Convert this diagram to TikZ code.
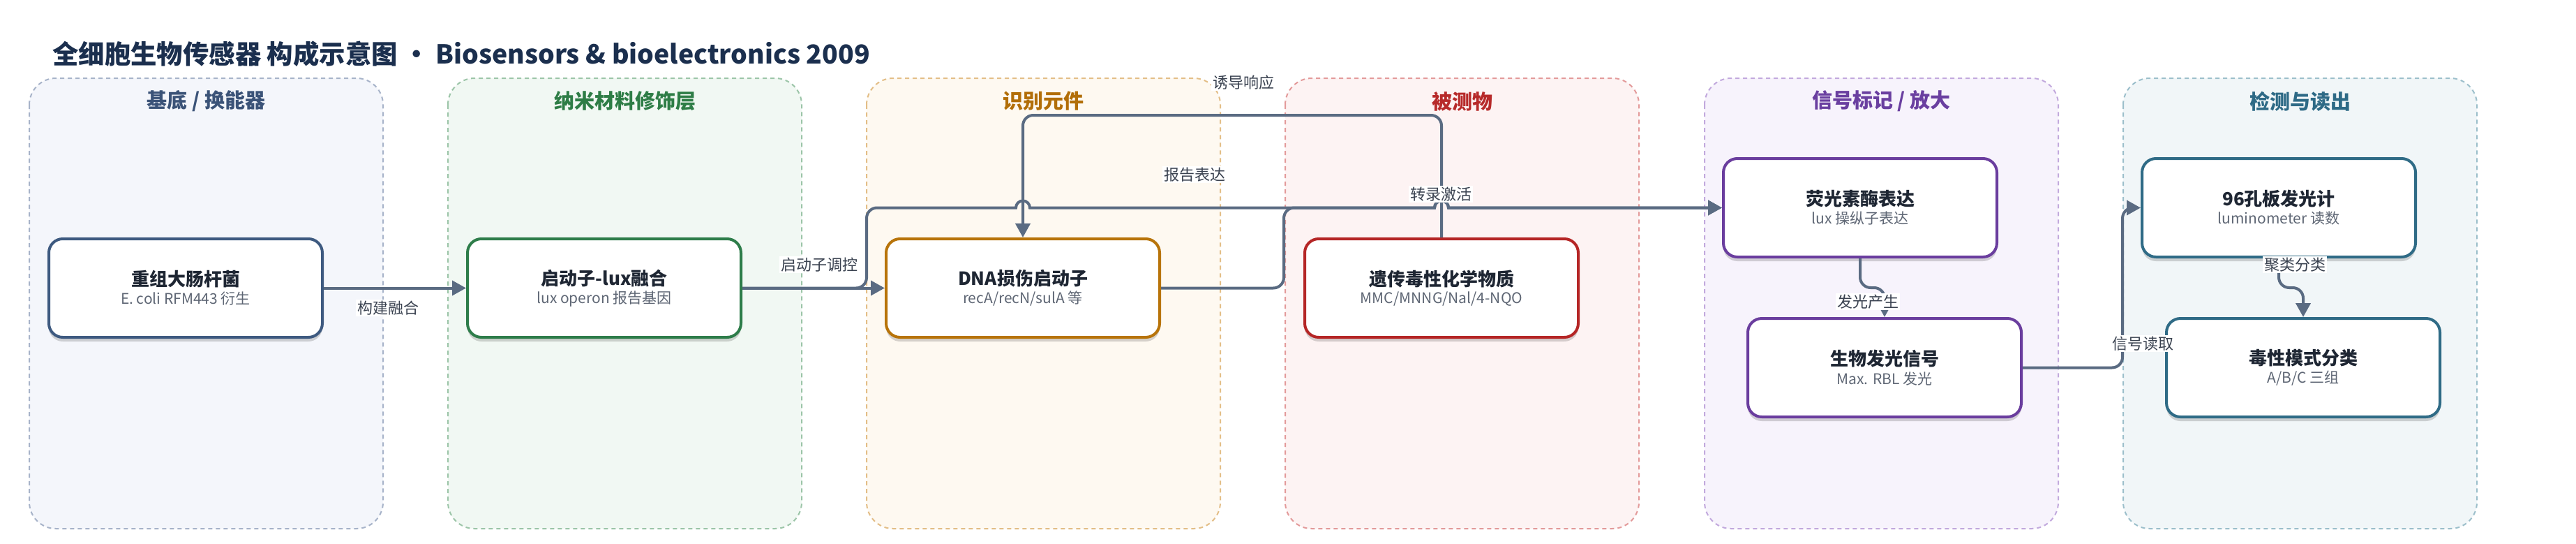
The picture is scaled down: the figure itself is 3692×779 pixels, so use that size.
\documentclass[tikz,border=0pt]{standalone}
\usepackage{fontspec}
\setmainfont{Noto Sans CJK SC}
\usetikzlibrary{arrows.meta,shadows}
\definecolor{titlec}{HTML}{1B2F4E}
\definecolor{edgec}{HTML}{5A6B82}
\definecolor{labc}{HTML}{3A4250}
\definecolor{ntc}{HTML}{1E2633}
\definecolor{subc}{HTML}{5E6674}
\definecolor{fA}{HTML}{F4F6FB}\definecolor{bA}{HTML}{A7B3C9}\definecolor{tA}{HTML}{3B5378}\definecolor{nA}{HTML}{3E5A80}
\definecolor{fB}{HTML}{F1F8F3}\definecolor{bB}{HTML}{9CC5A8}\definecolor{tB}{HTML}{2E7D46}\definecolor{nB}{HTML}{2E7D4A}
\definecolor{fC}{HTML}{FEF9F1}\definecolor{bC}{HTML}{E3BE87}\definecolor{tC}{HTML}{B26E08}\definecolor{nC}{HTML}{B8740A}
\definecolor{fD}{HTML}{FDF3F3}\definecolor{bD}{HTML}{E39A9A}\definecolor{tD}{HTML}{B72A2A}\definecolor{nD}{HTML}{B52626}
\definecolor{fE}{HTML}{F7F3FC}\definecolor{bE}{HTML}{C2A9DD}\definecolor{tE}{HTML}{6A3FA0}\definecolor{nE}{HTML}{6A3D9E}
\definecolor{fF}{HTML}{F1F6F8}\definecolor{bF}{HTML}{9CBFCB}\definecolor{tF}{HTML}{2E6A86}\definecolor{nF}{HTML}{2F6B86}
\newcommand{\boxtext}[2]{{\fontsize{26}{30}\selectfont\bfseries\color{ntc}#1}\\[5pt]{\fontsize{21}{25}\selectfont\color{subc}#2}}
\tikzset{
  lane/.style={draw=#1, dash pattern=on 6pt off 5pt, line width=2pt, rounded corners=38pt},
  lanetitle/.style={font=\fontsize{29}{34}\selectfont\bfseries, text=#1, anchor=center},
  nbox/.style={draw=#1, line width=4pt, rounded corners=20pt, fill=white,
    minimum width=392pt, minimum height=141pt, align=center, inner sep=0pt,
    drop shadow={shadow xshift=0pt, shadow yshift=-6pt, opacity=0.16, fill=black}},
  edge/.style={draw=edgec, line width=4pt},
  rc/.style={rounded corners=15pt},
  tip/.style={-{Triangle[length=20pt,width=21pt]}},
  elabel/.style={fill=white, inner sep=2pt, font=\fontsize{22}{26}\selectfont, text=labc}
}
\begin{document}
\begin{tikzpicture}[x=1pt,y=1pt]
\useasboundingbox (0,0) rectangle (3692,-779);
\fill[white] (0,0) rectangle (3692,-779);
% title
\node[anchor=west, font=\fontsize{37.4}{44}\selectfont\bfseries, text=titlec, inner sep=0pt] (title) at (75,-77) {全细胞生物传感器 构成示意图 · Biosensors \& bioelectronics 2009};
% lanes
\draw[lane=bA, fill=fA] (42,-112) rectangle (549,-757);
\draw[lane=bB, fill=fB] (642,-112) rectangle (1149,-757);
\draw[lane=bC, fill=fC] (1242,-112) rectangle (1749,-757);
\draw[lane=bD, fill=fD] (1842,-112) rectangle (2349,-757);
\draw[lane=bE, fill=fE] (2443,-112) rectangle (2950,-757);
\draw[lane=bF, fill=fF] (3043,-112) rectangle (3550,-757);
\node[lanetitle=tA] (lt1) at (295.5,-145) {基底 / 换能器};
\node[lanetitle=tB] (lt2) at (895.5,-145) {纳米材料修饰层};
\node[lanetitle=tC] (lt3) at (1495.5,-145) {识别元件};
\node[lanetitle=tD] (lt4) at (2095.5,-145) {被测物};
\node[lanetitle=tE] (lt5) at (2696.5,-145) {信号标记 / 放大};
\node[lanetitle=tF] (lt6) at (3296.5,-145) {检测与读出};
% nodes
\node[nbox=nA] (n1) at (266,-412.5) {\boxtext{重组大肠杆菌}{E. coli RFM443 衍生}};
\node[nbox=nB] (n2) at (866,-412.5) {\boxtext{启动子-lux融合}{lux operon 报告基因}};
\node[nbox=nC] (n3) at (1466,-412.5) {\boxtext{DNA损伤启动子}{recA/recN/sulA 等}};
\node[nbox=nD] (n4) at (2066,-412.5) {\boxtext{遗传毒性化学物质}{MMC/MNNG/Nal/4-NQO}};
\node[nbox=nE] (n5) at (2666,-297.5) {\boxtext{荧光素酶表达}{lux 操纵子表达}};
\node[nbox=nE] (n6) at (2701,-526.5) {\boxtext{生物发光信号}{Max. RBL 发光}};
\node[nbox=nF] (n7) at (3266,-297.5) {\boxtext{96孔板发光计}{luminometer 读数}};
\node[nbox=nF] (n8) at (3301,-526.5) {\boxtext{毒性模式分类}{A/B/C 三组}};
% edges
\draw[edge,tip] (n1.east) -- (n2.west);
\draw[edge,tip] (n2.east) -- (n3.west);
\draw[edge,rc,tip] (n4.north) -- (2066,-165) -- (1466,-165) -- (n3.north);
\draw[edge,tip] (n2.east) -- (1227,-412.5) arc[start angle=-90,end angle=0,radius=15pt]
  -- (1242,-312.5) arc[start angle=180,end angle=90,radius=15pt]
  -- (1456,-297.5) arc[start angle=180,end angle=0,radius=10pt]
  -- (2056,-297.5) arc[start angle=180,end angle=0,radius=10pt] -- (n5.west);
\draw[edge,tip] (n3.east) -- (1825,-412.5) arc[start angle=-90,end angle=0,radius=15pt]
  -- (1840,-312.5) arc[start angle=180,end angle=90,radius=15pt]
  -- (2056,-297.5) arc[start angle=180,end angle=0,radius=10pt] -- (n5.west);
\draw[edge,rc,tip] (n5.south) -- (2666,-412) -- (2701,-412) -- (n6.north);
\draw[edge,rc,tip] (n6.east) -- (3042,-526.5) -- (3042,-297.5) -- (n7.west);
\draw[edge,rc,tip] (n7.south) -- (3266,-412) -- (3301,-412) -- (n8.north);
% edge labels
\node[elabel] (l1) at (556,-441) {构建融合};
\node[elabel] (l2) at (1174,-379) {启动子调控};
\node[elabel] (l3) at (1782,-118) {诱导响应};
\node[elabel] (l4) at (1712,-250) {报告表达};
\node[elabel] (l5) at (2065,-278) {转录激活};
\node[elabel] (l6) at (2677,-432) {发光产生};
\node[elabel] (l7) at (3071,-492) {信号读取};
\node[elabel] (l8) at (3289,-379) {聚类分类};
\end{tikzpicture}
\end{document}
